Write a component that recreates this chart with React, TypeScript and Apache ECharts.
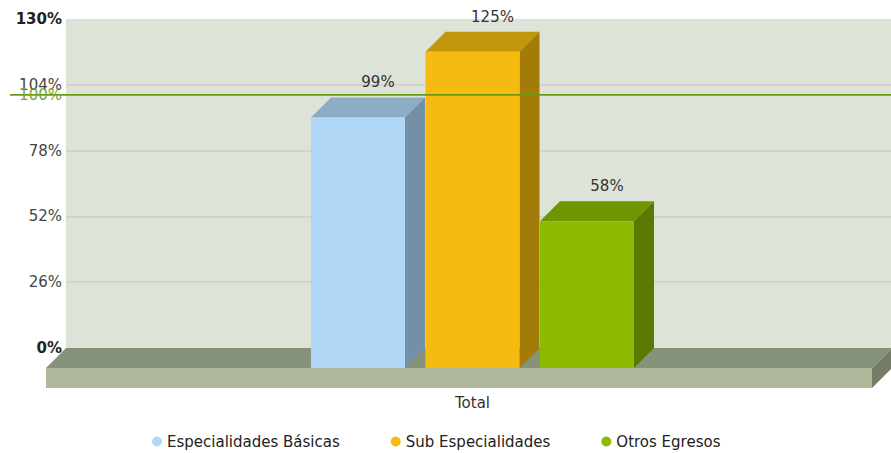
import React, { useEffect, useRef } from "react";
import * as echarts from "echarts";

// ---- data ----
const categories: string[] = ["Total"];
const seriesNames: string[] = ["Especialidades Básicas", "Sub Especialidades", "Otros Egresos"];
const seriesValues: number[] = [99, 125, 58];
const trendValues: number[] = [100];
const trendLabels: string[] = ["100%"];
const yMin = 0;
const yMax = 130;
const yStep = 26;

// ---- styles ----
const frontColors = ["#b0d8f6", "#f5bb11", "#8bba00"];
const topColors = ["#8dadc7", "#c4960d", "#6f9500"];
const sideColors = ["#7490a7", "#a27b09", "#5a7900"];
const FONT = "DejaVu Sans, Verdana, sans-serif";

const DEPTH = 20;
const BAR_W = 94;
const BAR_STEP = 114.5;
const FIRST_OFFSET = -167.5;

export default function App() {
  const ref = useRef<HTMLDivElement>(null);
  useEffect(() => {
    document.body.style.margin = "0";
    const chart = echarts.init(ref.current!, null, { renderer: "svg" });

    const barSeries = seriesNames.map((name, idx) => ({
      type: "custom",
      name,
      z: 3,
      itemStyle: { color: frontColors[idx] },
      encode: { x: 0, y: 1 },
      data: [[0, seriesValues[idx]]],
      renderItem: (params: any, api: any) => {
        const v = api.value(1);
        const base = api.coord([api.value(0), 0]);
        const top = api.coord([api.value(0), v]);
        const cx = base[0];
        const d = DEPTH;
        const fl = cx + FIRST_OFFSET + idx * BAR_STEP;
        const fr = fl + BAR_W;
        const fb = base[1] + d;
        const ft = top[1] + d;
        return {
          type: "group",
          children: [
            {
              type: "polygon",
              shape: { points: [[fl, ft], [fl + d, ft - d], [fr + d, ft - d], [fr, ft]] },
              style: { fill: topColors[idx] },
            },
            {
              type: "polygon",
              shape: { points: [[fr, ft], [fr + d, ft - d], [fr + d, fb - d], [fr, fb]] },
              style: { fill: sideColors[idx] },
            },
            {
              type: "rect",
              shape: { x: fl, y: ft, width: BAR_W, height: fb - ft },
              style: { fill: frontColors[idx] },
            },
            {
              type: "text",
              x: (fl + fr) / 2 + d,
              y: ft - d - 15,
              style: {
                text: v + "%",
                align: "center",
                verticalAlign: "middle",
                font: `15px ${FONT}`,
                fill: "#333",
              },
            },
          ],
        };
      },
    }));

    const floorSeries = {
      type: "custom",
      name: "floor",
      z: 1,
      silent: true,
      encode: { x: 0, y: 1 },
      data: [[0, 0]],
      renderItem: (params: any, api: any) => {
        const cs = params.coordSys;
        const base = api.coord([0, 0]);
        const yb = base[1];
        const xl = cs.x;
        const xr = cs.x + cs.width;
        const dx = 20;
        const dy = 20;
        const th = 20;
        return {
          type: "group",
          children: [
            {
              type: "polygon",
              shape: { points: [[xl, yb], [xr + 1, yb], [xr + 1 - dx, yb + dy], [xl - dx, yb + dy]] },
              style: { fill: "#87927a" },
            },
            {
              type: "rect",
              shape: { x: xl - dx, y: yb + dy, width: cs.width + 1, height: th },
              style: { fill: "#adb99a" },
            },
            {
              type: "polygon",
              shape: { points: [[xr + 1 - dx, yb + dy], [xr + 1, yb], [xr + 1, yb + th], [xr + 1 - dx, yb + dy + th]] },
              style: { fill: "#737d65" },
            },
          ],
        };
      },
    };

    const trendSeries = {
      type: "custom",
      name: "trend",
      z: 10,
      silent: true,
      encode: { x: 0, y: 1 },
      data: trendValues.map((t) => [0, t]),
      renderItem: (params: any, api: any) => {
        const cs = params.coordSys;
        const p = api.coord([0, api.value(1)]);
        return {
          type: "group",
          children: [
            {
              type: "line",
              shape: { x1: cs.x - 56, y1: p[1], x2: cs.x + cs.width, y2: p[1] },
              style: { stroke: "#6a9b14", lineWidth: 1.6 },
            },
            {
              type: "text",
              x: cs.x - 4,
              y: p[1],
              style: {
                text: trendLabels[params.dataIndex],
                align: "right",
                verticalAlign: "middle",
                font: `15px ${FONT}`,
                fill: "#7aa33a",
              },
            },
          ],
        };
      },
    };

    chart.setOption({
      animation: false,
      grid: {
        show: true,
        left: 66,
        right: 0,
        top: 19,
        bottom: 105,
        backgroundColor: "#dde3d6",
        borderWidth: 0,
      },
      legend: {
        data: seriesNames,
        left: 147,
        top: 429,
        icon: "circle",
        itemWidth: 10,
        itemHeight: 10,
        itemGap: 51,
        textStyle: { fontFamily: FONT, fontSize: 15, color: "#222" },
      },
      xAxis: {
        type: "category",
        data: categories,
        axisLine: { show: false },
        axisTick: { show: false },
        splitLine: { show: false },
        axisLabel: {
          margin: 47,
          fontFamily: FONT,
          fontSize: 15,
          color: "#333",
          padding: [0, 12, 0, 0],
        },
      },
      yAxis: {
        type: "value",
        min: yMin,
        max: yMax,
        interval: yStep,
        axisLine: { show: false },
        axisTick: { show: false },
        splitLine: {
          showMinLine: false,
          showMaxLine: false,
          lineStyle: { color: "#cbcfc8", width: 1.5 },
        },
        axisLabel: {
          margin: 4,
          formatter: (v: number) =>
            v === yMin || v === yMax ? `{b|${v}%}` : `{n|${v}%}`,
          rich: {
            b: { fontFamily: FONT, fontSize: 15, fontWeight: "bold", color: "#222" },
            n: { fontFamily: FONT, fontSize: 15, color: "#444" },
          },
        },
      },
      series: [floorSeries, ...barSeries, trendSeries],
    });
    return () => chart.dispose();
  }, []);
  return <div ref={ref} style={{ width: 891, height: 453 }} />;
}
